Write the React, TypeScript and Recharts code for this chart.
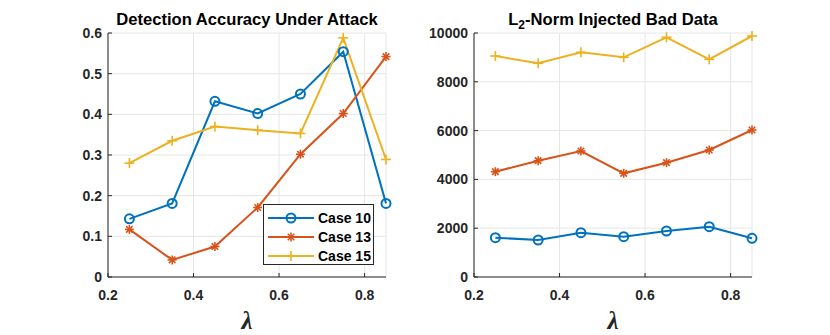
import { CartesianGrid, Legend, Line, LineChart, XAxis, YAxis } from "recharts";

const lambdas = [0.25, 0.35, 0.45, 0.55, 0.65, 0.75, 0.85];

const accCase10 = [0.143, 0.181, 0.432, 0.402, 0.45, 0.554, 0.181];
const accCase13 = [0.117, 0.042, 0.075, 0.171, 0.302, 0.402, 0.542];
const accCase15 = [0.28, 0.335, 0.37, 0.361, 0.353, 0.588, 0.289];

const normCase10 = [1611, 1516, 1816, 1652, 1885, 2061, 1585];
const normCase13 = [4317, 4768, 5164, 4249, 4686, 5205, 6025];
const normCase15 = [9057, 8757, 9208, 9004, 9823, 8921, 9877];

const seriesNames = ["Case 10", "Case 13", "Case 15"];
const xTicks = [0.2, 0.4, 0.6, 0.8];
const accTicks = [0, 0.1, 0.2, 0.3, 0.4, 0.5, 0.6];
const normTicks = [0, 2000, 4000, 6000, 8000, 10000];

const COLOR = {
  c10: "#0072BD",
  c13: "#D95319",
  c15: "#EDB120",
} as const;

const AXIS = "#262626";
const GRID = "#e6e6e6";
const FONT = "'Liberation Sans', Arial, sans-serif";

const accData = lambdas.map((x, i) => ({
  x,
  c10: accCase10[i],
  c13: accCase13[i],
  c15: accCase15[i],
}));
const normData = lambdas.map((x, i) => ({
  x,
  c10: normCase10[i],
  c13: normCase13[i],
  c15: normCase15[i],
}));

type Shape = "circle" | "star" | "plus";
const MARKER: Record<string, Shape> = { c10: "circle", c13: "star", c15: "plus" };

function Marker({ shape, cx, cy, color }: { shape: Shape; cx: number; cy: number; color: string }) {
  if (shape === "circle") {
    return <circle cx={cx} cy={cy} r={4.5} fill="none" stroke={color} strokeWidth={2} />;
  }
  if (shape === "plus") {
    const s = 5;
    return (
      <g stroke={color} strokeWidth={1.6}>
        <line x1={cx - s} y1={cy} x2={cx + s} y2={cy} />
        <line x1={cx} y1={cy - s} x2={cx} y2={cy + s} />
      </g>
    );
  }
  const s = 4.5;
  const d = s * 0.72;
  return (
    <g stroke={color} strokeWidth={1.6}>
      <line x1={cx - s} y1={cy} x2={cx + s} y2={cy} />
      <line x1={cx} y1={cy - s} x2={cx} y2={cy + s} />
      <line x1={cx - d} y1={cy - d} x2={cx + d} y2={cy + d} />
      <line x1={cx - d} y1={cy + d} x2={cx + d} y2={cy - d} />
    </g>
  );
}

const dotFor = (key: string) => (props: any) => (
  <Marker
    key={`${key}-${props.index}`}
    shape={MARKER[key]}
    cx={props.cx}
    cy={props.cy}
    color={COLOR[key as keyof typeof COLOR]}
  />
);

const tickStyle = { fill: AXIS, fontSize: 14, fontWeight: "bold", fontFamily: FONT };

function LegendBox({ payload }: any) {
  return (
    <div
      style={{
        boxSizing: "border-box",
        border: `1px solid ${AXIS}`,
        background: "#fff",
        padding: "3px 0 1px 4px",
        width: 111,
        height: 61,
      }}
    >
      {(payload || []).map((item: any) => (
        <div
          key={item.value}
          style={{ display: "flex", alignItems: "center", height: 19, whiteSpace: "nowrap" }}
        >
          <svg width={46} height={12} style={{ marginRight: 4, flexShrink: 0 }}>
            <line x1={0} y1={6} x2={46} y2={6} stroke={item.color} strokeWidth={2} />
            <Marker shape={MARKER[item.dataKey]} cx={23} cy={6} color={item.color} />
          </svg>
          <span style={{ fontFamily: FONT, fontWeight: "bold", fontSize: 14, color: "#000" }}>{item.value}</span>
        </div>
      ))}
    </div>
  );
}

function Panel({
  data,
  yTicks,
  yDomain,
  yWidth,
  rightMargin,
  withLegend,
}: {
  data: any[];
  yTicks: number[];
  yDomain: [number, number];
  yWidth: number;
  rightMargin: number;
  withLegend: boolean;
}) {
  return (
    <LineChart width={415} height={335} data={data} margin={{ top: 33, right: rightMargin, bottom: 0, left: 0 }}>
      <CartesianGrid stroke={GRID} />
      <XAxis
        dataKey="x"
        type="number"
        domain={[0.2, 0.85]}
        ticks={xTicks}
        height={58}
        stroke={AXIS}
        tickSize={-4}
        tickMargin={17}
        tick={tickStyle}
        label={{
          value: "λ",
          position: "insideBottom",
          offset: 6,
          fill: AXIS,
          fontSize: 25,
          fontWeight: "bold",
          fontStyle: "italic",
          fontFamily: "'Liberation Serif', serif",
        }}
      />
      <XAxis
        xAxisId="top"
        orientation="top"
        dataKey="x"
        type="number"
        domain={[0.2, 0.85]}
        ticks={xTicks}
        height={0}
        stroke={AXIS}
        tickSize={-4}
        tickFormatter={() => ""}
      />
      <YAxis
        type="number"
        domain={yDomain}
        ticks={yTicks}
        width={yWidth}
        stroke={AXIS}
        tickSize={-4}
        tickMargin={10}
        tick={tickStyle}
        interval={0}
      />
      <YAxis
        yAxisId="right"
        orientation="right"
        type="number"
        domain={yDomain}
        ticks={yTicks}
        width={0}
        stroke={AXIS}
        tickSize={-4}
        tickFormatter={() => ""}
        interval={0}
      />
      {withLegend && (
        <Legend
          layout="horizontal"
          verticalAlign="middle"
          wrapperStyle={{ left: 263, top: 204, width: 111, height: 61 }}
          content={<LegendBox />}
        />
      )}
      {(["c10", "c13", "c15"] as const).map((k, i) => (
        <Line
          key={k}
          dataKey={k}
          name={seriesNames[i]}
          stroke={COLOR[k]}
          strokeWidth={2}
          dot={dotFor(k)}
          activeDot={false}
          isAnimationActive={false}
        />
      ))}
    </LineChart>
  );
}

const titleStyle: React.CSSProperties = {
  position: "absolute",
  top: 11,
  fontFamily: FONT,
  fontWeight: "bold",
  fontSize: 16.6,
  lineHeight: "18px",
  color: "#000",
  textAlign: "center",
  whiteSpace: "nowrap",
};

export default function App() {
  return (
    <div style={{ position: "fixed", left: 0, top: 0, width: 830, height: 335, background: "#fff" }}>
      <div style={{ position: "absolute", left: 0, top: 0 }}>
        <Panel data={accData} yTicks={accTicks} yDomain={[0, 0.6]} yWidth={108} rightMargin={29} withLegend />
      </div>
      <div style={{ position: "absolute", left: 415, top: 0 }}>
        <Panel data={normData} yTicks={normTicks} yDomain={[0, 10000]} yWidth={59} rightMargin={78} withLegend={false} />
      </div>
      <div style={{ ...titleStyle, left: 108, width: 278 }}>Detection Accuracy Under Attack</div>
      <div style={{ ...titleStyle, left: 474, width: 278 }}>
        L<sub style={{ fontSize: 12, verticalAlign: "-4px", lineHeight: 0 }}>2</sub>-Norm Injected Bad Data
      </div>
    </div>
  );
}
